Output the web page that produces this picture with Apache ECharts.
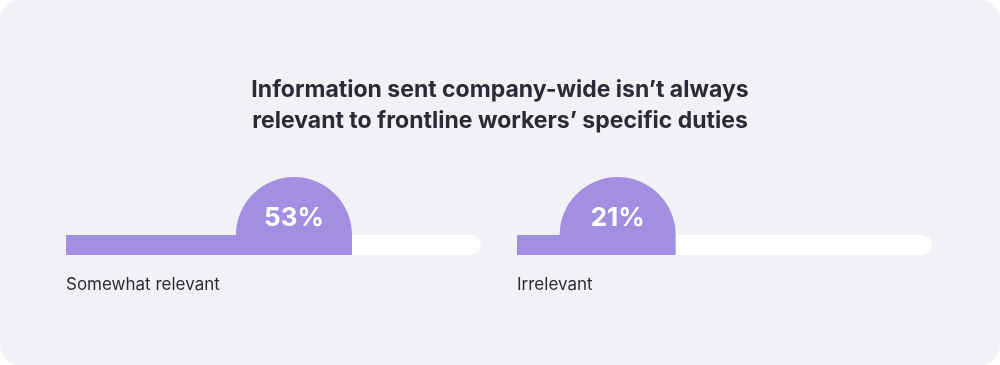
<!DOCTYPE html>
<html>
<head>
<meta charset="utf-8">
<script src="https://cdn.jsdelivr.net/npm/echarts@6/dist/echarts.min.js"></script>
<style>
html,body{margin:0;padding:0;background:#ffffff;}
#chart{width:1000px;height:365px;}
</style>
</head>
<body>
<div id="chart"></div>
<script>
const titleLines = ["Information sent company-wide isn\u2019t always", "relevant to frontline workers\u2019 specific duties"];
const categories = ["Somewhat relevant", "Irrelevant"];
const values = [53, 21];

const PURPLE = '#a18fe1';
const DARK = '#2b2a37';
const BG = '#f2f1f6';
const FONT = 'Inter, "Open Sans", sans-serif';
const BUBBLE_R = 58;

function renderItem(params, api) {
  const cs = params.coordSys;
  const v = api.value(0);
  const cx = api.coord([v, 0])[0];
  const top = cs.y, h = cs.height, bottom = cs.y + cs.height;
  return {
    type: 'group',
    children: [
      { type: 'rect', shape: { x: cs.x, y: top, width: cs.width, height: h, r: [0, h / 2, h / 2, 0] }, style: { fill: '#ffffff' } },
      { type: 'rect', shape: { x: cs.x, y: top, width: cx + BUBBLE_R - cs.x, height: h }, style: { fill: PURPLE } },
      { type: 'sector', shape: { cx: cx, cy: top, r: BUBBLE_R, r0: 0, startAngle: Math.PI, endAngle: Math.PI * 2, clockwise: true }, style: { fill: PURPLE } },
      { type: 'text', x: cx, y: top - 17, style: { text: v + '%', fill: '#ffffff', font: 'bold 26px ' + FONT, textAlign: 'center', textVerticalAlign: 'middle' } },
      { type: 'text', x: cs.x, y: bottom + 30, style: { text: categories[params.seriesIndex], fill: DARK, font: '17px ' + FONT, textAlign: 'left', textVerticalAlign: 'middle' } }
    ]
  };
}

const chart = echarts.init(document.getElementById('chart'), null, { renderer: 'canvas' });
const grids = [], xAxes = [], yAxes = [], series = [];
categories.forEach((c, i) => {
  grids.push({ left: 66 + i * 451, top: 235, width: 415, height: 20 });
  xAxes.push({ type: 'value', gridIndex: i, min: -4.3, max: 100, show: false });
  yAxes.push({ type: 'category', gridIndex: i, data: [c], show: false });
  series.push({ type: 'custom', xAxisIndex: i, yAxisIndex: i, renderItem: renderItem, data: [[values[i], 0]], clip: false, silent: true });
});

chart.setOption({
  animation: false,
  graphic: [{ type: 'rect', z: -10, shape: { x: 0, y: 0, width: 1000, height: 365, r: 20 }, style: { fill: BG } }],
  title: {
    text: titleLines.join('\n'), left: 'center', top: 70,
    textStyle: { fontFamily: FONT, fontSize: 23, fontWeight: 'bold', color: DARK, lineHeight: 31, align: 'center' }
  },
  grid: grids, xAxis: xAxes, yAxis: yAxes, series: series
});
</script>
</body>
</html>
